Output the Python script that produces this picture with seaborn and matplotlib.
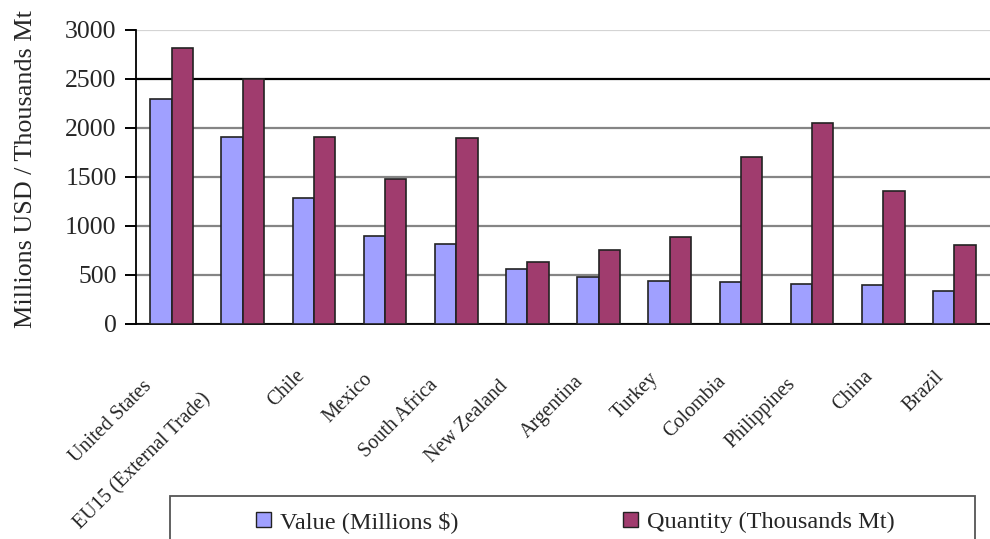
import matplotlib
matplotlib.use("Agg")
import matplotlib.pyplot as plt
import matplotlib.transforms as mtransforms
from matplotlib.patches import Rectangle
import pandas as pd
import seaborn as sns

# Export value and quantity by destination
countries = ["United States", "EU15 (External Trade)", "Chile", "Mexico",
             "South Africa", "New Zealand", "Argentina", "Turkey",
             "Colombia", "Philippines", "China", "Brazil"]
value_musd = [2290, 1900, 1280, 900, 820, 560, 475, 440, 430, 410, 400, 335]
quantity_kt = [2810, 2500, 1900, 1480, 1890, 630, 750, 890, 1700, 2050, 1350, 800]
series_names = ["Value (Millions $)", "Quantity (Thousands Mt)"]
y_ticks = [0, 500, 1000, 1500, 2000, 2500, 3000]

df = pd.DataFrame({
    "country": countries * 2,
    "amount": value_musd + quantity_kt,
    "series": [series_names[0]] * len(countries) + [series_names[1]] * len(countries),
})

sns.set_theme(style="white")
plt.rcParams["font.family"] = ["Liberation Serif", "DejaVu Serif"]

fig = plt.figure(figsize=(9.9, 5.39), dpi=100)
ax = fig.add_axes([136 / 990, 1 - 324 / 539, 1 - 136 / 990, (324 - 29.5) / 539])

palette = {series_names[0]: "#A0A0FF", series_names[1]: "#A03C6E"}
sns.barplot(data=df, x="country", y="amount", hue="series", order=countries,
            hue_order=series_names, palette=palette, width=0.6, gap=0,
            saturation=1, edgecolor="#222222", linewidth=1.2, legend=False,
            errorbar=None, ax=ax, zorder=3)

ax.set_xlim(-0.5, len(countries) - 0.5)
ax.set_ylim(0, 3000)
ax.set_yticks(y_ticks)
ax.set_yticklabels([str(t) for t in y_ticks], fontsize=18.5)
ax.set_xlabel("")
ax.set_ylabel("Millions USD / Thousands Mt", fontsize=18.8)
ax.yaxis.set_label_coords(-0.116, 0.528)

# horizontal gridlines
ax.yaxis.grid(True, linewidth=1.6, color="#858585", zorder=0)
ax.set_axisbelow(True)
grid_lines = ax.get_ygridlines()
grid_lines[-1].set_color("#d4d4d4")
grid_lines[-2].set_color("#000000")

for side in ("top", "right"):
    ax.spines[side].set_visible(False)
for side in ("left", "bottom"):
    ax.spines[side].set_color("black")
    ax.spines[side].set_linewidth(1.3)

ax.tick_params(axis="y", which="major", left=True, length=8, width=1.4,
               color="black", pad=6)
ax.yaxis.get_major_ticks()[-1].tick1line.set_color("#bdbdbd")
ax.tick_params(axis="x", which="major", bottom=False, length=0, pad=0)

# slanted category labels, each anchored a quarter of its length from the end
ax.set_xticks(range(len(countries)))
ax.set_xticklabels(countries, fontsize=14.5, rotation=45, ha="right",
                   va="center", rotation_mode="anchor")
renderer = fig.canvas.get_renderer()
for lab in ax.get_xticklabels():
    w_px = renderer.get_text_width_height_descent(
        lab.get_text(), lab.get_fontproperties(), ismath=False)[0]
    slide = 0.23 * w_px / 2 ** 0.5
    shift = mtransforms.ScaledTranslation((-5 - slide) / 100, (-42 - slide) / 100,
                                          fig.dpi_scale_trans)
    lab.set_transform(lab.get_transform() + shift)

# legend box across the bottom
fig.patches.append(Rectangle((170 / 990, -0.05), (975 - 170) / 990, 1 - 496 / 539 + 0.05,
                             transform=fig.transFigure, facecolor="white",
                             edgecolor="#555555", linewidth=1.3, zorder=1))
handles = [Rectangle((0, 0), 1, 1, facecolor=palette[s], edgecolor="#222222", linewidth=1.0)
           for s in series_names]
fig.legend(handles, series_names, loc="center", ncol=2, mode="expand",
           bbox_to_anchor=(256 / 990, 1 - 522 / 539 - 0.02, (895 - 256) / 990, 0.04),
           frameon=False, fontsize=17.5, handlelength=0.6, handleheight=0.6,
           handletextpad=0.4, borderaxespad=0, borderpad=0)

fig.savefig("out.png", dpi=100)
